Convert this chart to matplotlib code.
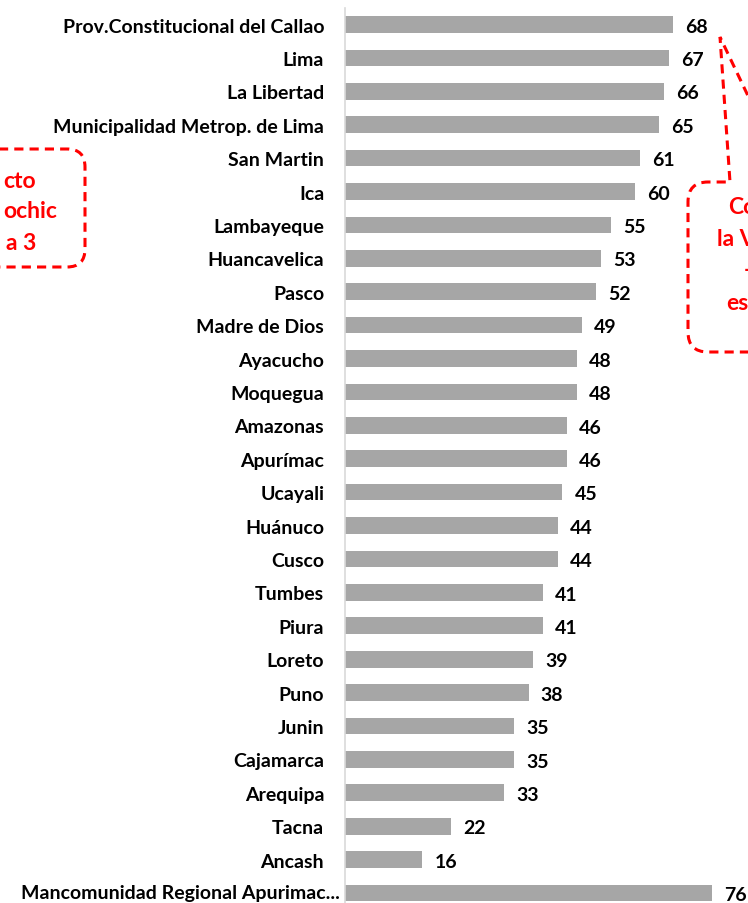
import matplotlib.pyplot as plt
from matplotlib.path import Path
from matplotlib.patches import PathPatch

# Dados
categorias = [
    "Prov.Constitucional del Callao", "Lima", "La Libertad",
    "Municipalidad Metrop. de Lima", "San Martin", "Ica", "Lambayeque",
    "Huancavelica", "Pasco", "Madre de Dios", "Ayacucho", "Moquegua",
    "Amazonas", "Apurímac", "Ucayali", "Huánuco", "Cusco", "Tumbes",
    "Piura", "Loreto", "Puno", "Junin", "Cajamarca", "Arequipa", "Tacna",
    "Ancash", "Mancomunidad Regional Apurimac...",
]
valores = [68, 67, 66, 65, 61, 60, 55, 53, 52, 49, 48, 48, 46, 46, 45, 44,
           44, 41, 41, 39, 38, 35, 35, 33, 22, 16, 76]

plt.rcParams["font.family"] = ["Lato", "DejaVu Sans"]
vermelho = "#ff0000"

W, H = 748, 904
fig = plt.figure(figsize=(W / 100, H / 100), dpi=100)

# Eixo principal
ax = fig.add_axes([345 / W, 0, (W - 345) / W, 1 - 8.8 / H])
pos = list(range(len(categorias)))
ax.barh(pos, valores, height=0.5, color="#a6a6a6")
ax.set_xlim(0, (W - 345) / 4.83)
ax.set_ylim(26.3, -0.5)
ax.set_yticks(pos)
# o ultimo rotulo (truncado) fica mais perto do eixo, como no Excel
ax.set_yticklabels(categorias[:-1] + [""], fontsize=14, fontweight="bold")
ax.annotate(categorias[-1], xy=(0, pos[-1]), xycoords=("axes fraction", "data"),
            xytext=(-5, 0), textcoords="offset pixels", ha="right",
            va="center", fontsize=14, fontweight="bold")
ax.tick_params(axis="y", length=0, pad=15)
ax.set_xticks([])
for s in ["top", "right", "bottom"]:
    ax.spines[s].set_visible(False)
ax.spines["left"].set_color("#d9d9d9")
ax.spines["left"].set_linewidth(1.2)
for p, v in zip(pos, valores):
    ax.text(v + 2.5, p + 0.05, str(v), va="center", ha="left",
            fontsize=14, fontweight="bold")

# Camada de anotações em pixels
ov = fig.add_axes([0, 0, 1, 1])
ov.set_xlim(0, W)
ov.set_ylim(H, 0)
ov.axis("off")
ov.patch.set_alpha(0)

estilo = dict(facecolor="none", edgecolor=vermelho, linewidth=2.2,
              linestyle=(0, (3, 2)))

# Caixa esquerda
r = 18
v_esq = [(-60, 150), (85 - r, 150), (85, 150), (85, 150 + r),
         (85, 268 - r), (85, 268), (85 - r, 268), (-60, 268)]
c_esq = [Path.MOVETO, Path.LINETO, Path.CURVE3, Path.CURVE3,
         Path.LINETO, Path.CURVE3, Path.CURVE3, Path.LINETO]
ov.add_patch(PathPatch(Path(v_esq, c_esq), clip_on=False, **estilo))
for txt, x, y in [("cto", 36, 181), ("ochic", 57, 212), ("a 3", 36, 243)]:
    ov.text(x, y, txt, ha="right", va="center", color=vermelho,
            fontsize=16.5, fontweight="bold")

# Caixa direita com ponteiro
r = 20
v_dir = [(850, 353), (688 + r, 353), (688, 353), (688, 353 - r),
         (688, 183 + r), (688, 183), (688 + r, 183), (730, 183),
         (720, 38), (789, 183), (850, 183)]
c_dir = [Path.MOVETO, Path.LINETO, Path.CURVE3, Path.CURVE3,
         Path.LINETO, Path.CURVE3, Path.CURVE3, Path.LINETO,
         Path.LINETO, Path.LINETO, Path.LINETO]
ov.add_patch(PathPatch(Path(v_dir, c_dir), clip_on=False, **estilo))
for txt, x, y in [("Co", 728, 207), ("la V", 717, 239), ("-", 744, 271),
                  ("es", 726, 304)]:
    ov.text(x, y, txt, ha="left", va="center", color=vermelho,
            fontsize=16.5, fontweight="bold")

plt.savefig("out.png", dpi=100)
